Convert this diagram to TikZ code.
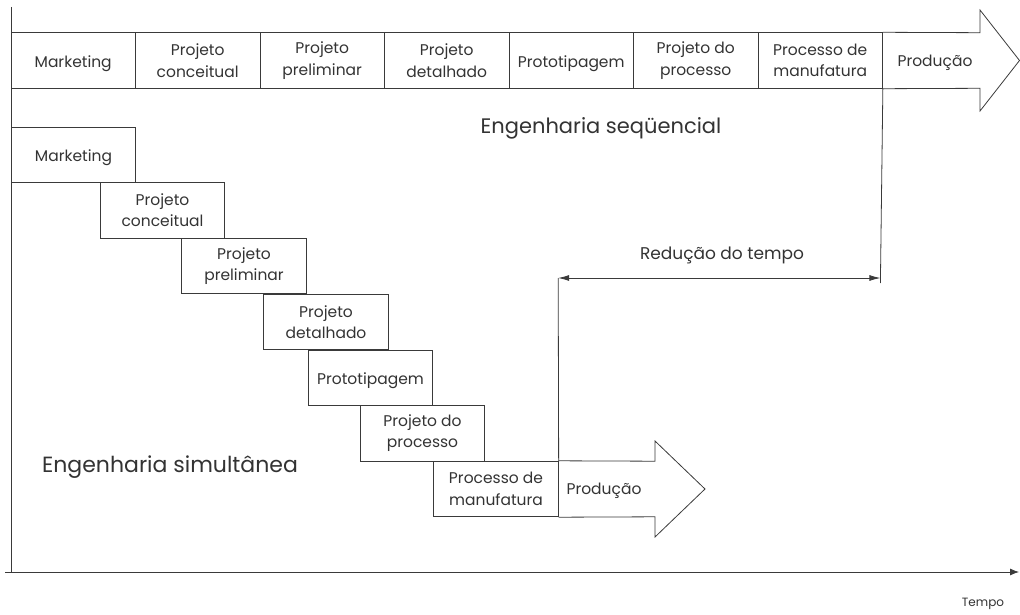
\documentclass[tikz,border=0pt]{standalone}
\usepackage{fontspec}
\setmainfont{Poppins}
\usetikzlibrary{arrows.meta}
\definecolor{ln}{HTML}{3A3A3A}
\definecolor{txt}{HTML}{333333}
\newcommand{\lowr}[1]{\raisebox{-3pt}[\height][\depth]{#1}}
\tikzset{
  cell/.style={draw=ln, line width=0.8pt, minimum width=124.5pt, minimum height=55.6pt,
    inner sep=0pt, align=center, text=txt, font=\fontsize{15.5}{21.5}\selectfont},
  lbl/.style={text=txt, inner sep=0pt},
  outline/.style={draw=ln, line width=0.8pt, line join=miter},
  conn/.style={draw=ln, line width=0.8pt},
}
\begin{document}
\begin{tikzpicture}[x=1pt,y=-1pt]
\useasboundingbox (0,0) rectangle (1020,615);
% axes
\coordinate (o) at (11,572);
\coordinate (ytop) at (11,7);
\coordinate (xs) at (5,572);
\coordinate (xe) at (1019,572);
\draw[conn] (ytop) -- (o);
\draw[conn,-{Latex[length=9pt,width=7pt]}] (xs) -- (xe);
\node[lbl,font=\fontsize{12}{14}\selectfont] (tempo) at (983,604) {Tempo};

% sequential row
\node[cell] (s1) at (73.2,60.5) {\lowr{Marketing}};
\node[cell] (s2) at (197.7,60.5) {Projeto\\conceitual};
\node[cell] (s3) at (322.2,60.5) {Projeto\\preliminar};
\node[cell] (s4) at (446.7,60.5) {Projeto\\detalhado};
\node[cell] (s5) at (571.2,60.5) {\lowr{Prototipagem}};
\node[cell] (s6) at (695.7,60.5) {Projeto do\\processo};
\node[cell] (s7) at (820.2,60.5) {Processo de\\manufatura};
\draw[outline] (s7.north east) -- (980,32.7) -- (980,10) -- (1019.5,60.5) -- (980,111) -- (980,88.3) -- (s7.south east);
\node[lbl,font=\fontsize{15.5}{21.5}\selectfont] (sp) at (935,62.5) {Produção};
\node[lbl,font=\fontsize{21}{24}\selectfont] (seq) at (601,128.5) {Engenharia seqüencial};

% staircase
\node[cell] (c1) at (73.5,154.8) {\lowr{Marketing}};
\node[cell] (c2) at (162.5,210.4) {Projeto\\conceitual};
\node[cell] (c3) at (244,266) {Projeto\\preliminar};
\node[cell] (c4) at (326,322) {Projeto\\detalhado};
\node[cell] (c5) at (370.5,377.8) {\lowr{Prototipagem}};
\node[cell] (c6) at (422.5,433.3) {Projeto do\\processo};
\node[cell] (c7) at (496,489) {Processo de\\manufatura};
\draw[outline] (c7.north east) -- (655,461.2) -- (655,441) -- (705,489) -- (655,537) -- (655,516.8) -- (c7.south east);
\node[lbl,font=\fontsize{15.5}{21.5}\selectfont] (cp) at (604,491) {Produção};
\node[lbl,font=\fontsize{22}{24}\selectfont] (sim) at (170,467.5) {Engenharia simultânea};

% time reduction
\coordinate (r1) at (558.2,278);
\coordinate (r2) at (880.4,278);
\coordinate (r2b) at (880.4,283);
\draw[conn] (c7.north east) -- (r1);
\draw[conn] (s7.south east) -- (r2b);
\draw[conn,{Latex[length=11pt,width=6pt]}-{Latex[length=11pt,width=6pt]}] (r1) -- (r2);
\node[lbl,font=\fontsize{17}{20}\selectfont] (red) at (722,255.5) {Redução do tempo};
\end{tikzpicture}
\end{document}
